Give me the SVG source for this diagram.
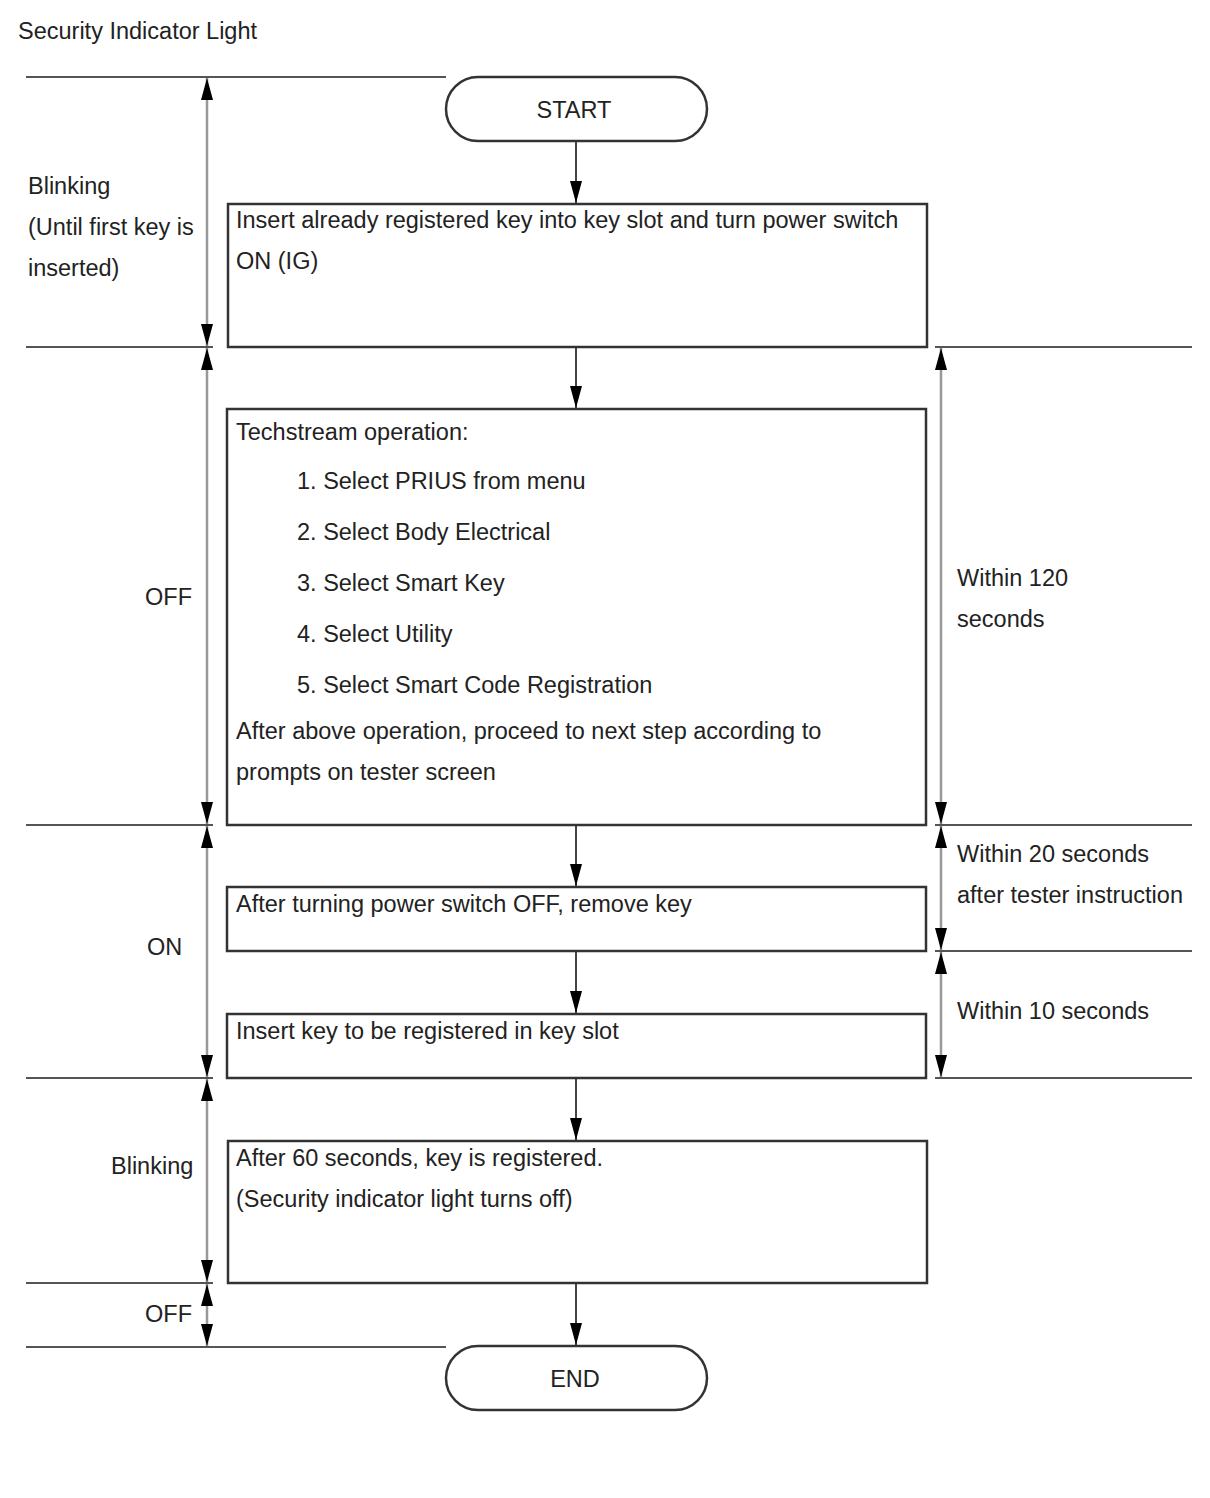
<svg xmlns="http://www.w3.org/2000/svg" width="1210" height="1498" viewBox="0 0 1210 1498">
<style>
text{font-family:"Liberation Sans",Arial,sans-serif;font-size:23.5px;fill:#222}
.box{fill:#fff;stroke:#333;stroke-width:2.5}
.sep{stroke:#555;stroke-width:2;fill:none}
.dim{stroke:#999;stroke-width:2.5;fill:none;marker-start:url(#ah);marker-end:url(#ah)}
.flow{stroke:#444;stroke-width:2;fill:none;marker-end:url(#ah)}
</style>
<defs>
<marker id="ah" viewBox="0 0 22 12" refX="22" refY="6" markerWidth="22" markerHeight="12" markerUnits="userSpaceOnUse" orient="auto-start-reverse"><path d="M0,0 L22,6 L0,12 z" fill="#000"/></marker>
</defs>
<rect width="1210" height="1498" fill="#fff"/>
<text x="18" y="39">Security Indicator Light</text>
<g id="separators">
<line class="sep" x1="26" y1="77" x2="446" y2="77"/>
<line class="sep" x1="26" y1="347" x2="213" y2="347"/>
<line class="sep" x1="935" y1="347" x2="1192" y2="347"/>
<line class="sep" x1="26" y1="825" x2="213" y2="825"/>
<line class="sep" x1="935" y1="825" x2="1192" y2="825"/>
<line class="sep" x1="935" y1="951" x2="1192" y2="951"/>
<line class="sep" x1="26" y1="1078" x2="213" y2="1078"/>
<line class="sep" x1="935" y1="1078" x2="1192" y2="1078"/>
<line class="sep" x1="26" y1="1283" x2="213" y2="1283"/>
<line class="sep" x1="26" y1="1347" x2="446" y2="1347"/>
</g>
<g id="dimensions">
<line class="dim" x1="207" y1="78" x2="207" y2="346"/>
<line class="dim" x1="207" y1="348" x2="207" y2="824"/>
<line class="dim" x1="207" y1="826" x2="207" y2="1077"/>
<line class="dim" x1="207" y1="1079" x2="207" y2="1282"/>
<line class="dim" x1="207" y1="1284" x2="207" y2="1346"/>
<line class="dim" x1="941" y1="348" x2="941" y2="824"/>
<line class="dim" x1="941" y1="826" x2="941" y2="950"/>
<line class="dim" x1="941" y1="952" x2="941" y2="1077"/>
</g>
<g id="connectors">
<line class="flow" x1="576" y1="142" x2="576" y2="203"/>
<line class="flow" x1="576" y1="347" x2="576" y2="408"/>
<line class="flow" x1="576" y1="825" x2="576" y2="886"/>
<line class="flow" x1="576" y1="951" x2="576" y2="1013"/>
<line class="flow" x1="576" y1="1078" x2="576" y2="1140"/>
<line class="flow" x1="576" y1="1283" x2="576" y2="1345"/>
</g>
<g id="start">
<rect class="box" x="446" y="77" width="261" height="64" rx="32"/>
<text x="574" y="118" text-anchor="middle">START</text>
</g>
<g id="step1">
<rect class="box" x="228" y="204" width="699" height="143"/>
<text x="236" y="228">Insert already registered key into key slot and turn power switch</text>
<text x="236" y="269">ON (IG)</text>
</g>
<g id="step2">
<rect class="box" x="227" y="409" width="699" height="416"/>
<text x="236" y="440">Techstream operation:</text>
<text x="297" y="489">1. Select PRIUS from menu</text>
<text x="297" y="540">2. Select Body Electrical</text>
<text x="297" y="591">3. Select Smart Key</text>
<text x="297" y="642">4. Select Utility</text>
<text x="297" y="693">5. Select Smart Code Registration</text>
<text x="236" y="739">After above operation, proceed to next step according to</text>
<text x="236" y="780">prompts on tester screen</text>
</g>
<g id="step3">
<rect class="box" x="227" y="887" width="699" height="64"/>
<text x="236" y="912">After turning power switch OFF, remove key</text>
</g>
<g id="step4">
<rect class="box" x="227" y="1014" width="699" height="64"/>
<text x="236" y="1039">Insert key to be registered in key slot</text>
</g>
<g id="step5">
<rect class="box" x="228" y="1141" width="699" height="142"/>
<text x="236" y="1166">After 60 seconds, key is registered.</text>
<text x="236" y="1207">(Security indicator light turns off)</text>
</g>
<g id="end">
<rect class="box" x="446" y="1346" width="261" height="64" rx="32"/>
<text x="575" y="1387" text-anchor="middle">END</text>
</g>
<g id="left-labels">
<text x="28" y="194">Blinking</text>
<text x="28" y="235">(Until first key is</text>
<text x="28" y="276">inserted)</text>
<text x="145" y="605">OFF</text>
<text x="147" y="955">ON</text>
<text x="111" y="1174">Blinking</text>
<text x="145" y="1322">OFF</text>
</g>
<g id="right-labels">
<text x="957" y="586">Within 120</text>
<text x="957" y="627">seconds</text>
<text x="957" y="862">Within 20 seconds</text>
<text x="957" y="903">after tester instruction</text>
<text x="957" y="1019">Within 10 seconds</text>
</g>
</svg>
